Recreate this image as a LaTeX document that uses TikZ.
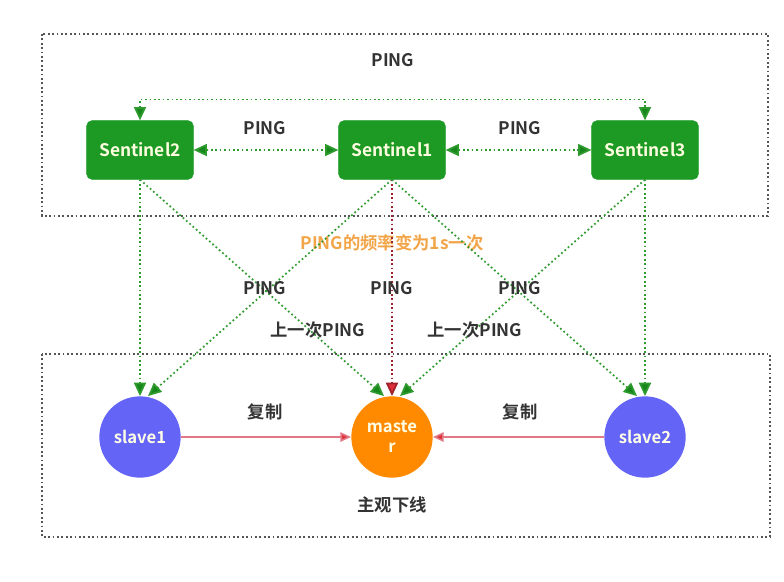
\documentclass[tikz,border=0pt]{standalone}
\usepackage{fontspec}
\setmainfont{Noto Sans CJK SC}[BoldFont={* Bold}]
\usepackage{xcolor}
\usetikzlibrary{arrows.meta}
\definecolor{sentgreen}{HTML}{1C9A24}
\definecolor{sentarrow}{HTML}{2F9B2F}
\definecolor{senttip}{HTML}{17861B}
\definecolor{slaveblue}{HTML}{6464F6}
\definecolor{masterorange}{HTML}{FF8A00}
\definecolor{replred}{HTML}{E27884}
\definecolor{repltip}{HTML}{E0303C}
\definecolor{labelgray}{HTML}{333333}
\definecolor{boxgray}{HTML}{555555}
\definecolor{noteorange}{HTML}{F2A548}

\begin{document}
\begin{tikzpicture}[
  x=0.75pt, y=-0.75pt,
  sent/.style={draw=sentgreen, fill=sentgreen, rounded corners=4pt, minimum width=80pt, minimum height=44pt, inner sep=1pt, text=white!88!yellow, font=\fontsize{13}{15}\selectfont\bfseries},
  redis/.style={circle, minimum size=61pt, inner sep=1pt, align=center, text=white!90!yellow, font=\fontsize{12.5}{15}\selectfont\bfseries},
  lbl/.style={text=labelgray, font=\fontsize{13}{15}\selectfont\bfseries},
  grp/.style={draw=boxgray, dotted, line width=1.3pt},
  pg/.style={draw=sentarrow, dotted, line width=1.3pt, -{Triangle[length=10pt,width=9pt,fill=senttip]}},
  pgb/.style={pg, {Triangle[length=10pt,width=9pt,fill=senttip]}-{Triangle[length=10pt,width=9pt,fill=senttip]}},
  pgr/.style={draw=repltip!70!black, dotted, line width=1.3pt, -{Triangle[length=10pt,width=9pt,fill=repltip]}},
  repl/.style={draw=replred, line width=1.2pt, -{Triangle[length=8pt,width=7pt,fill=repltip]}}
]
\useasboundingbox (0,0) rectangle (784,581);

% groups
\draw[grp] (42,34) rectangle (768,216);
\draw[grp] (42,354) rectangle (770,537);

% note behind the lines
\node[text=noteorange, font=\fontsize{13}{15}\selectfont\bfseries] (note) at (392,243) {PING的频率变为1s一次};

% sentinels
\node[sent] (s2) at (140,150) {Sentinel2};
\node[sent] (s1) at (392,150) {Sentinel1};
\node[sent] (s3) at (645,150) {Sentinel3};

% redis nodes
\node[redis, fill=slaveblue] (sl1) at (140,437) {slave1};
\node[redis, fill=masterorange] (m) at (392,437) {maste\\r};
\node[redis, fill=slaveblue] (sl2) at (645,437) {slave2};

% sentinel to sentinel
\draw[pgb] (s2.north) -- ++(0,-21) -| (s3.north);
\draw[pgb] (s2) -- (s1);
\draw[pgb] (s1) -- (s3);

% sentinels to redis
\draw[pg] (s2.south) -- (sl1.north);
\draw[pg] (s2.south) -- ([xshift=-6pt]m.north);
\draw[pg] (s1.south) -- ([xshift=6pt]sl1.north);
\draw[pgr] (s1.south) -- (m.north);
\draw[pg] (s1.south) -- ([xshift=-6pt]sl2.north);
\draw[pg] (s3.south) -- ([xshift=6pt]m.north);
\draw[pg] (s3.south) -- (sl2.north);

% replication
\draw[repl] (sl1) -- (m);
\draw[repl] (sl2) -- (m);

% labels
\node[lbl] (ltop) at (393,60) {PING};
\node[lbl] (l21) at (265,128) {PING};
\node[lbl] (l13) at (520,128) {PING};
\node[lbl] (la) at (265,288) {PING};
\node[lbl] (lb) at (392,288) {PING};
\node[lbl] (lc) at (520,288) {PING};
\node[lbl] (ld) at (318,330) {上一次PING};
\node[lbl] (le) at (475,330) {上一次PING};
\node[lbl] (r1) at (265,412) {复制};
\node[lbl] (r2) at (520,412) {复制};
\node[lbl] (down) at (392,505) {主观下线};
\end{tikzpicture}
\end{document}
